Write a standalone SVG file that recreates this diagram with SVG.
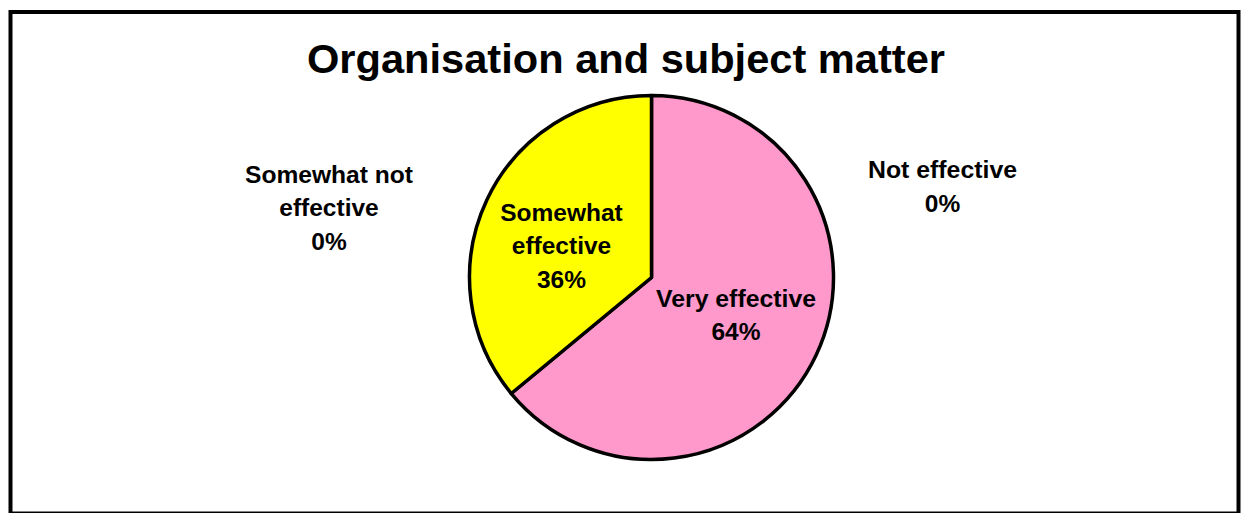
<svg xmlns="http://www.w3.org/2000/svg" width="1243" height="513" viewBox="0 0 1243 513">
<style>
.lbl{font-family:"Liberation Sans",Arial,sans-serif;font-weight:bold;font-size:24.5px;fill:#000;text-anchor:middle}
.title{font-family:"Liberation Sans",Arial,sans-serif;font-weight:bold;font-size:41px;fill:#000;text-anchor:middle}
.slice{stroke:#000;stroke-width:3.5;stroke-linejoin:round}
</style>
<rect x="0" y="0" width="1243" height="513" fill="#fff"/>
<rect id="frame" x="10.5" y="12" width="1228" height="501.5" fill="none" stroke="#000" stroke-width="4"/>
<g id="title">
<text class="title" x="626" y="73" textLength="638" lengthAdjust="spacingAndGlyphs">Organisation and subject matter</text>
</g>
<g id="slice-very-effective">
<path class="slice" fill="#FF99CC" d="M651.5 277.5 L651.5 95.5 A182 182 0 1 1 511.27 393.51 Z"/>
<text class="lbl" x="736" y="306.5" textLength="160" lengthAdjust="spacingAndGlyphs">Very effective</text>
<text class="lbl" x="736" y="340">64%</text>
</g>
<g id="slice-somewhat-effective">
<path class="slice" fill="#FFFF00" d="M651.5 277.5 L511.27 393.51 A182 182 0 0 1 651.5 95.5 Z"/>
<text class="lbl" x="561.5" y="220.5">Somewhat</text>
<text class="lbl" x="561.5" y="254">effective</text>
<text class="lbl" x="561.5" y="288">36%</text>
</g>
<g id="label-somewhat-not-effective">
<text class="lbl" x="329" y="182.5" textLength="168" lengthAdjust="spacingAndGlyphs">Somewhat not</text>
<text class="lbl" x="329" y="216">effective</text>
<text class="lbl" x="329" y="249.5">0%</text>
</g>
<g id="label-not-effective">
<text class="lbl" x="942.5" y="177.5" textLength="149" lengthAdjust="spacingAndGlyphs">Not effective</text>
<text class="lbl" x="942.5" y="211.5">0%</text>
</g>
<g id="connectors"></g>
</svg>
